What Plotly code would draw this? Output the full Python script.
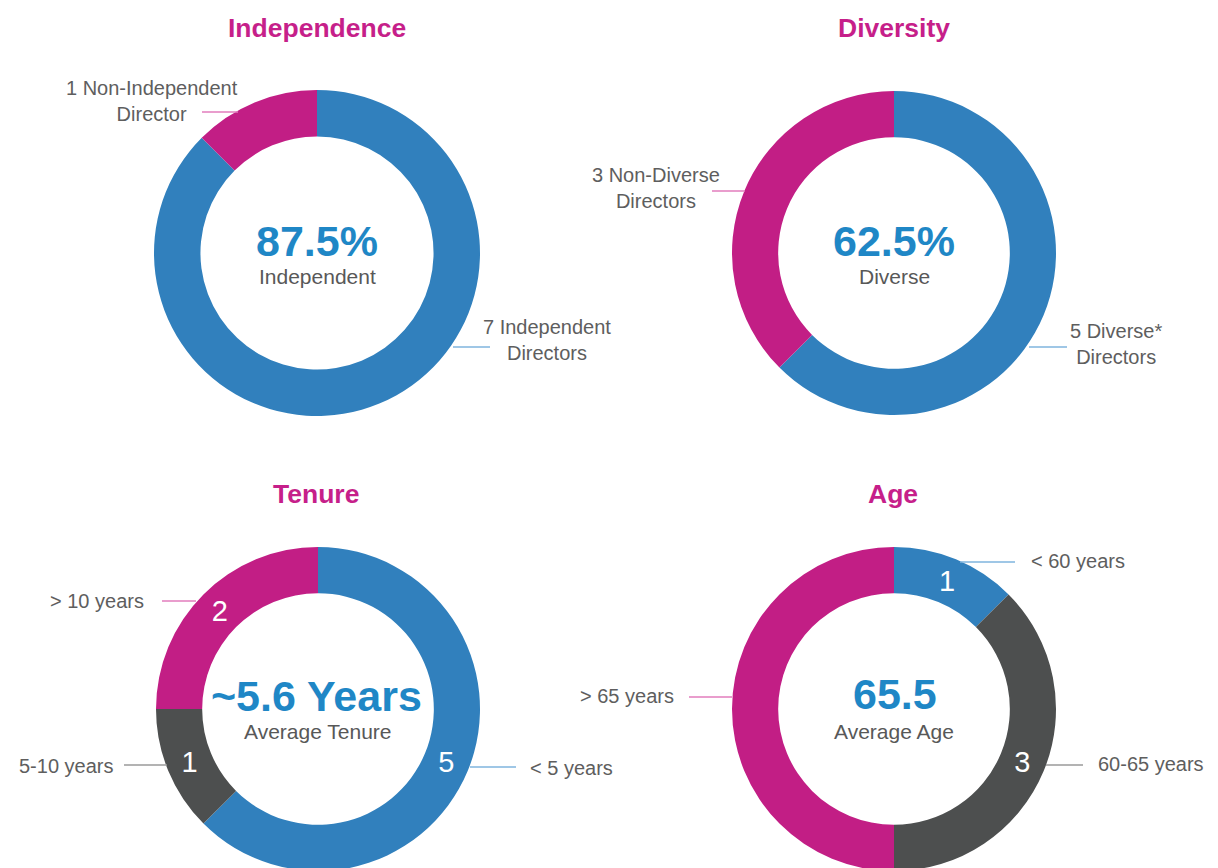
import plotly.graph_objects as go

W, H = 1218, 872   # page is 868 tall; the lower donuts run slightly past the bottom edge

BLUE = "#3180BD"
MAGENTA = "#C21E85"
DARK = "#4D4F4F"
TITLE_C = "#C61F8A"
CENTER_BLUE = "#1F87C6"
LABEL_C = "#5E5E5E"
LINE_BLUE = "#7FB4DE"
LINE_PINK = "#E27DBC"
LINE_GRAY = "#9A9A9A"

# ---- data ----
indep_labels = ["7 Independent Directors", "1 Non-Independent Director"]
indep_values = [7, 1]
div_labels = ["5 Diverse* Directors", "3 Non-Diverse Directors"]
div_values = [5, 3]
tenure_labels = ["< 5 years", "5-10 years", "> 10 years"]
tenure_values = [5, 1, 2]
tenure_slice_text = ["5", "1", "2"]
age_labels = ["< 60 years", "60-65 years", "> 65 years"]
age_values = [1, 3, 4]
age_slice_text = ["1", "3", ""]

titles = ["Independence", "Diversity", "Tenure", "Age"]
center_big = ["87.5%", "62.5%", "~5.6 Years", "65.5"]
center_small = ["Independent", "Diverse", "Average Tenure", "Average Age"]

# ---- layout geometry (pixels): (cx, cy, r) ----
geo = [(317, 253, 163), (894, 253, 162), (318, 709, 162), (894, 709, 162)]


def px(x):
    return x / W


def py(y):
    return 1 - y / H


fig = go.Figure()

traces = [
    (indep_labels, indep_values, [BLUE, MAGENTA], None),
    (div_labels, div_values, [BLUE, MAGENTA], None),
    (tenure_labels, tenure_values, [BLUE, DARK, MAGENTA], tenure_slice_text),
    (age_labels, age_values, [BLUE, DARK, MAGENTA], age_slice_text),
]

FONT = "Liberation Sans, Arial, Helvetica, sans-serif"

for (labels, values, colors, txt), (cx, cy, r) in zip(traces, geo):
    fig.add_trace(go.Pie(
        labels=labels,
        values=values,
        hole=0.715,
        sort=False,
        direction="clockwise",
        rotation=0,
        marker=dict(colors=colors, line=dict(width=0)),
        text=txt,
        textinfo="text" if txt else "none",
        textposition="inside",
        insidetextorientation="horizontal",
        textfont=dict(family=FONT, size=29, color="white"),
        domain=dict(x=[px(cx - r), px(cx + r)], y=[max(0, py(cy + r)), py(cy - r)]),
        showlegend=False,
        hoverinfo="skip",
    ))

annotations = []

title_pos = [(317, 28), (894, 28), (316, 494), (893, 494)]
for t, (x, y) in zip(titles, title_pos):
    annotations.append(dict(text="<b>%s</b>" % t, x=px(x), y=py(y), xref="paper", yref="paper",
                            showarrow=False, xanchor="center", yanchor="middle",
                            font=dict(family=FONT, size=26.5, color=TITLE_C)))

big_pos = [(317, 241), (894, 241), (316, 696), (895, 694)]
small_pos = [(317, 276), (894, 276), (318, 731), (894, 731)]
for b, s, (bx, by), (sx, sy) in zip(center_big, center_small, big_pos, small_pos):
    annotations.append(dict(text="<b>%s</b>" % b, x=px(bx), y=py(by), xref="paper", yref="paper",
                            showarrow=False, xanchor="center", yanchor="middle",
                            font=dict(family=FONT, size=43, color=CENTER_BLUE)))
    annotations.append(dict(text=s, x=px(sx), y=py(sy), xref="paper", yref="paper",
                            showarrow=False, xanchor="center", yanchor="middle",
                            font=dict(family=FONT, size=21, color="#585858")))

# callout labels: text, x-center, y-center, connector (x0, x1, y), colour
callouts = [
    ("1 Non-Independent<br>Director", 152, 101, (202, 238, 112), LINE_PINK),
    ("7 Independent<br>Directors", 547, 340, (453, 490, 347), LINE_BLUE),
    ("3 Non-Diverse<br>Directors", 656, 188, (712, 745, 191), LINE_PINK),
    ("5 Diverse*<br>Directors", 1116, 344, (1029, 1067, 347), LINE_BLUE),
    ("> 10 years", 97, 601, (162, 196, 601), LINE_PINK),
    ("5-10 years", 66, 766, (124, 167, 765), LINE_GRAY),
    ("< 5 years", 571, 768, (470, 516, 767), LINE_BLUE),
    ("< 60 years", 1078, 561, (960, 1015, 562), LINE_BLUE),
    ("> 65 years", 627, 696, (689, 732, 697), LINE_PINK),
    ("60-65 years", 1151, 764, (1046, 1083, 765), LINE_GRAY),
]

shapes = []
for text, x, y, (x0, x1, ly), col in callouts:
    annotations.append(dict(text=text, x=px(x), y=py(y), xref="paper", yref="paper",
                            showarrow=False, xanchor="center", yanchor="middle", align="center",
                            font=dict(family=FONT, size=20, color=LABEL_C)))
    shapes.append(dict(type="line", xref="paper", yref="paper",
                       x0=px(x0), x1=px(x1), y0=py(ly), y1=py(ly),
                       line=dict(color=col, width=1.5)))

fig.update_layout(
    width=W, height=H,
    margin=dict(l=0, r=0, t=0, b=0),
    paper_bgcolor="white",
    plot_bgcolor="white",
    annotations=annotations,
    shapes=shapes,
    font=dict(family=FONT),
)

fig.write_html(
    "out.html",
    config={"displayModeBar": False},
    post_script="document.body.style.margin='0';document.body.style.overflow='hidden';",
)
